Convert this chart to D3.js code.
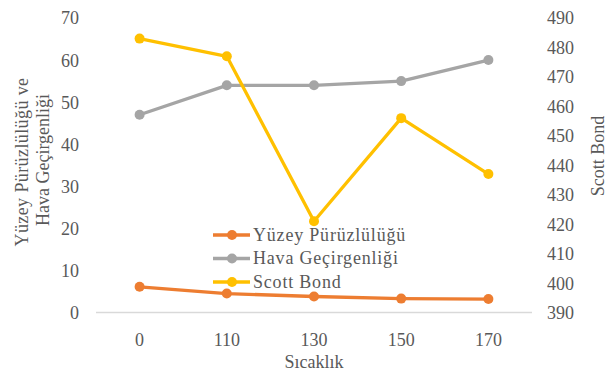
<!DOCTYPE html>
<html>
<head>
<meta charset="utf-8">
<script src="https://cdn.jsdelivr.net/npm/d3@7"></script>
<style>
  html, body { margin: 0; padding: 0; background: #fff; }
  svg { display: block; }
  svg text { font-family: "Liberation Serif", "Tinos", "Times New Roman", "DejaVu Serif", serif; }
</style>
</head>
<body>
<svg id="chart" width="615" height="376"></svg>
<script>
// Temperature categories and measured series
const categories = ["0", "110", "130", "150", "170"];
const roughness = [6.1, 4.5, 3.8, 3.3, 3.2];        // Yüzey Pürüzlülüğü (left axis)
const permeability = [47, 54, 54, 55, 60];         // Hava Geçirgenliği (left axis)
const scottBond = [483, 477, 421, 456, 437];       // Scott Bond (right axis)
const leftTicks = [0, 10, 20, 30, 40, 50, 60, 70];
const rightTicks = [390, 400, 410, 420, 430, 440, 450, 460, 470, 480, 490];

const series = [
  { name: "Yüzey Pürüzlülüğü", values: roughness, axis: "left", color: "#ED7D31" },
  { name: "Hava Geçirgenliği", values: permeability, axis: "left", color: "#A5A5A5" },
  { name: "Scott Bond", values: scottBond, axis: "right", color: "#FFC000" }
];

const svg = d3.select("#chart");
const plot = { left: 96, right: 532, top: 18, bottom: 312.5 };

const x = d3.scaleBand().domain(categories).range([plot.left, plot.right]);
const yL = d3.scaleLinear().domain([0, 70]).range([plot.bottom, plot.top]);
const yR = d3.scaleLinear().domain([390, 490]).range([plot.bottom, plot.top]);

const textColor = "#595959";
const fs = 18;

// category baseline
svg.append("line")
  .attr("x1", plot.left).attr("x2", plot.right)
  .attr("y1", plot.bottom).attr("y2", plot.bottom)
  .attr("stroke", "#D9D9D9").attr("stroke-width", 1.3);

function styleTicks(g) {
  g.select(".domain").remove();
  g.attr("font-family", null).attr("font-size", null);
  g.selectAll("text").attr("fill", textColor).style("font-size", fs + "px");
}

// left axis labels
svg.append("g")
  .attr("transform", `translate(${plot.left - 17},0)`)
  .call(d3.axisLeft(yL).tickValues(leftTicks).tickSize(0).tickPadding(0))
  .call(styleTicks)
  .selectAll("text").attr("dy", "0.33em");

// right axis labels
svg.append("g")
  .attr("transform", `translate(${plot.right + 15},0)`)
  .call(d3.axisRight(yR).tickValues(rightTicks).tickSize(0).tickPadding(0))
  .call(styleTicks)
  .selectAll("text").attr("dy", "0.33em");

// category labels
svg.append("g")
  .attr("transform", `translate(0,${plot.bottom + 20})`)
  .call(d3.axisBottom(x).tickSize(0).tickPadding(0))
  .call(styleTicks)
  .selectAll("text").attr("dy", "0.75em");

// axis titles
const title = (tx, ty, rot, str) => svg.append("text")
  .attr("transform", `translate(${tx},${ty}) rotate(${rot})`)
  .attr("text-anchor", "middle").attr("fill", textColor)
  .style("font-size", fs + "px")
  .text(str);
title(28, 162, -90, "Yüzey Pürüzlülüğü ve").style("letter-spacing", "0.4px");
title(48.5, 160, -90, "Hava Geçirgenliği");
title(603.5, 156, -90, "Scott Bond");
title(314, 368, 0, "Sıcaklık");

// lines with markers
const cx = c => x(c) + x.bandwidth() / 2;
series.forEach(s => {
  const yS = s.axis === "left" ? yL : yR;
  const pts = categories.map((c, i) => [cx(c), yS(s.values[i])]);
  svg.append("path")
    .attr("d", d3.line()(pts))
    .attr("fill", "none").attr("stroke", s.color)
    .attr("stroke-width", 3.3).attr("stroke-linejoin", "round").attr("stroke-linecap", "round");
  svg.append("g").selectAll("circle").data(pts).join("circle")
    .attr("cx", d => d[0]).attr("cy", d => d[1]).attr("r", 5)
    .attr("fill", s.color);
});

// legend
const legend = svg.append("g").attr("transform", "translate(213,235)");
series.forEach((s, i) => {
  const g = legend.append("g").attr("transform", `translate(0,${i * 23.5})`);
  g.append("line").attr("x1", 0).attr("x2", 37).attr("y1", 0).attr("y2", 0)
    .attr("stroke", s.color).attr("stroke-width", 3.3);
  g.append("circle").attr("cx", 19).attr("cy", 0).attr("r", 5).attr("fill", s.color);
  g.append("text").attr("x", 40).attr("y", 0).attr("dy", "0.33em")
    .attr("fill", textColor).style("font-size", fs + "px")
    .style("letter-spacing", "0.8px")
    .text(s.name);
});
</script>
</body>
</html>
